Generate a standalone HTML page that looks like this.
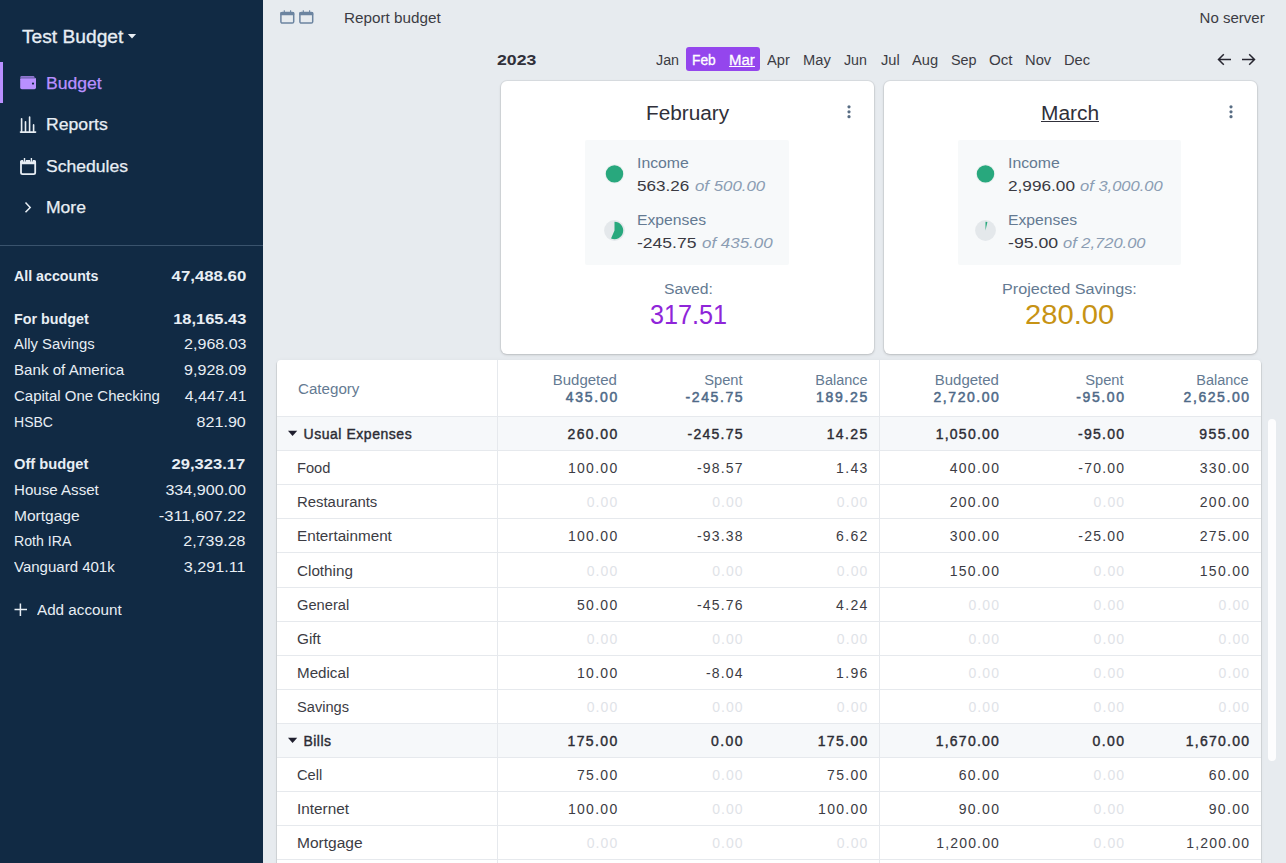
<!DOCTYPE html>
<html><head><meta charset="utf-8"><style>
html,body{margin:0;padding:0;width:1286px;height:863px;overflow:hidden;background:#e7ebef;font-family:"Liberation Sans",sans-serif;}
.t{position:absolute;white-space:nowrap;}
.r{position:absolute;display:block;}
</style></head><body>
<div class="r" style="left:0px;top:0px;width:263px;height:863px;background:#112a44;"></div>
<div class="t" style="top:28.00px;font-size:18px;line-height:18px;color:#e8eef4;-webkit-text-stroke:0.3px #e8eef4;left:21.60px;transform-origin:0 0;transform:scaleX(1.0662);">Test Budget</div>
<svg class="r" style="left:127px;top:33px;" width="10" height="7" viewBox="0 0 10 7"><path d="M0.9 1.1 L9.1 1.1 L5 5.4 Z" fill="#e8eef4"/></svg>
<div class="r" style="left:0px;top:62px;width:3px;height:41px;background:#b990ff;"></div>
<svg class="r" style="left:20px;top:75px;" width="16" height="15" viewBox="0 0 16 15"><rect x="0.2" y="2.6" width="15.8" height="11.6" rx="1.6" fill="#b990ff"/><rect x="0.3" y="1.2" width="14.2" height="2.2" rx="1.1" fill="#b990ff"/><path d="M0.5 2.9 H15" stroke="#112a44" stroke-width="0.6"/><circle cx="13" cy="8.6" r="1.1" fill="#112a44"/></svg>
<div class="t" style="top:75.80px;font-size:16px;line-height:16px;color:#b990ff;-webkit-text-stroke:0.25px #b990ff;left:45.50px;transform-origin:0 0;transform:scaleX(1.0986);">Budget</div>
<svg class="r" style="left:19px;top:115px;" width="18" height="19" viewBox="0 0 18 19"><g stroke="#e8eef4" stroke-width="1.6" stroke-linecap="round"><path d="M2.6 3.8 V16.5"/><path d="M6.5 6.9 V16.5"/><path d="M10.6 2 V16.5"/><path d="M14.6 9.9 V16.5"/><path d="M1.5 17.1 H16.6"/></g></svg>
<div class="t" style="top:117.00px;font-size:16px;line-height:16px;color:#e8eef4;-webkit-text-stroke:0.25px #e8eef4;left:45.70px;transform-origin:0 0;transform:scaleX(1.1018);">Reports</div>
<svg class="r" style="left:19px;top:157px;" width="18" height="19" viewBox="0 0 18 19"><rect x="2" y="4" width="14.2" height="13.1" rx="1.6" fill="none" stroke="#e8eef4" stroke-width="1.8"/><rect x="1.2" y="3.2" width="15.8" height="4" rx="1.4" fill="#e8eef4"/><path d="M4.6 2.6 V4.4 M6.4 2.6 V4.4 M11.5 2.6 V4.4 M13.3 2.6 V4.4" stroke="#112a44" stroke-width="0.9"/><path d="M5.5 1 V4.6 M12.4 1 V4.6" stroke="#e8eef4" stroke-width="1.4"/></svg>
<div class="t" style="top:158.90px;font-size:16px;line-height:16px;color:#e8eef4;-webkit-text-stroke:0.25px #e8eef4;left:45.70px;transform-origin:0 0;transform:scaleX(1.0977);">Schedules</div>
<svg class="r" style="left:23px;top:200px;" width="10" height="15" viewBox="0 0 10 15"><path d="M2.5 2.5 L7.2 7.4 L2.5 12.3" fill="none" stroke="#e8eef4" stroke-width="1.5"/></svg>
<div class="t" style="top:200.30px;font-size:16px;line-height:16px;color:#e8eef4;-webkit-text-stroke:0.25px #e8eef4;left:45.70px;transform-origin:0 0;transform:scaleX(1.0959);">More</div>
<div class="r" style="left:0px;top:245px;width:263px;height:1px;background:#3a536d;"></div>
<div class="t" style="top:269.00px;font-size:14px;line-height:14px;color:#e8eef4;font-weight:bold;left:14.30px;transform-origin:0 0;transform:scaleX(1.0144);">All accounts</div>
<div class="t" style="top:269.00px;font-size:14px;line-height:14px;color:#e8eef4;font-weight:bold;right:1040.02px;transform-origin:100% 0;transform:scaleX(1.1990);">47,488.60</div>
<div class="t" style="top:311.80px;font-size:14px;line-height:14px;color:#e8eef4;font-weight:bold;left:14.30px;transform-origin:0 0;transform:scaleX(1.0219);">For budget</div>
<div class="t" style="top:311.80px;font-size:14px;line-height:14px;color:#e8eef4;font-weight:bold;right:1040.02px;transform-origin:100% 0;transform:scaleX(1.1734);">18,165.43</div>
<div class="t" style="top:337.30px;font-size:14px;line-height:14px;color:#e8eef4;left:14.30px;transform-origin:0 0;transform:scaleX(1.0590);">Ally Savings</div>
<div class="t" style="top:337.30px;font-size:14px;line-height:14px;color:#e8eef4;right:1040.01px;transform-origin:100% 0;transform:scaleX(1.1450);">2,968.03</div>
<div class="t" style="top:363.30px;font-size:14px;line-height:14px;color:#e8eef4;left:14.30px;transform-origin:0 0;transform:scaleX(1.0804);">Bank of America</div>
<div class="t" style="top:363.30px;font-size:14px;line-height:14px;color:#e8eef4;right:1040.01px;transform-origin:100% 0;transform:scaleX(1.1450);">9,928.09</div>
<div class="t" style="top:389.30px;font-size:14px;line-height:14px;color:#e8eef4;left:14.30px;transform-origin:0 0;transform:scaleX(1.0712);">Capital One Checking</div>
<div class="t" style="top:389.30px;font-size:14px;line-height:14px;color:#e8eef4;right:1040.01px;transform-origin:100% 0;transform:scaleX(1.1321);">4,447.41</div>
<div class="t" style="top:414.80px;font-size:14px;line-height:14px;color:#e8eef4;left:14.30px;transform-origin:0 0;transform:scaleX(1.0026);">HSBC</div>
<div class="t" style="top:414.80px;font-size:14px;line-height:14px;color:#e8eef4;right:1039.98px;transform-origin:100% 0;transform:scaleX(1.1495);">821.90</div>
<div class="t" style="top:457.00px;font-size:14px;line-height:14px;color:#e8eef4;font-weight:bold;left:14.40px;transform-origin:0 0;transform:scaleX(1.0508);">Off budget</div>
<div class="t" style="top:457.00px;font-size:14px;line-height:14px;color:#e8eef4;font-weight:bold;right:1040.52px;transform-origin:100% 0;transform:scaleX(1.1830);">29,323.17</div>
<div class="t" style="top:482.90px;font-size:14px;line-height:14px;color:#e8eef4;left:14.40px;transform-origin:0 0;transform:scaleX(1.0789);">House Asset</div>
<div class="t" style="top:482.90px;font-size:14px;line-height:14px;color:#e8eef4;right:1040.34px;transform-origin:100% 0;transform:scaleX(1.1512);">334,900.00</div>
<div class="t" style="top:508.70px;font-size:14px;line-height:14px;color:#e8eef4;left:14.40px;transform-origin:0 0;transform:scaleX(1.1100);">Mortgage</div>
<div class="t" style="top:508.70px;font-size:14px;line-height:14px;color:#e8eef4;right:1040.31px;transform-origin:100% 0;transform:scaleX(1.1805);">-311,607.22</div>
<div class="t" style="top:534.10px;font-size:14px;line-height:14px;color:#e8eef4;left:14.40px;transform-origin:0 0;transform:scaleX(1.0088);">Roth IRA</div>
<div class="t" style="top:534.10px;font-size:14px;line-height:14px;color:#e8eef4;right:1040.31px;transform-origin:100% 0;transform:scaleX(1.1413);">2,739.28</div>
<div class="t" style="top:559.60px;font-size:14px;line-height:14px;color:#e8eef4;left:14.40px;transform-origin:0 0;transform:scaleX(1.0723);">Vanguard 401k</div>
<div class="t" style="top:559.60px;font-size:14px;line-height:14px;color:#e8eef4;right:1040.35px;transform-origin:100% 0;transform:scaleX(1.1533);">3,291.11</div>
<svg class="r" style="left:13px;top:602px;" width="16" height="16" viewBox="0 0 16 16"><path d="M7.4 1.5 V14 M1.5 7.6 H14" stroke="#e8eef4" stroke-width="1.5"/></svg>
<div class="t" style="top:603.00px;font-size:14px;line-height:14px;color:#e8eef4;left:37.10px;transform-origin:0 0;transform:scaleX(1.0874);">Add account</div>
<svg class="r" style="left:280px;top:9px;" width="15" height="16" viewBox="0 0 15 16"><rect x="0.9" y="3.6" width="12.8" height="10.5" rx="1.4" fill="none" stroke="#6c84a0" stroke-width="1.5"/><rect x="0.3" y="3" width="14" height="3.2" rx="1" fill="#6c84a0"/><path d="M4.3 1.3 V4 M10.6 1.3 V4" stroke="#6c84a0" stroke-width="1.1"/></svg>
<svg class="r" style="left:299px;top:9px;" width="15" height="16" viewBox="0 0 15 16"><rect x="0.9" y="3.6" width="12.8" height="10.5" rx="1.4" fill="none" stroke="#6c84a0" stroke-width="1.5"/><rect x="0.3" y="3" width="14" height="3.2" rx="1" fill="#6c84a0"/><path d="M4.3 1.3 V4 M10.6 1.3 V4" stroke="#6c84a0" stroke-width="1.1"/></svg>
<div class="t" style="top:10.70px;font-size:14px;line-height:14px;color:#3c3c44;left:343.90px;transform-origin:0 0;transform:scaleX(1.0902);">Report budget</div>
<div class="t" style="top:10.90px;font-size:14px;line-height:14px;color:#3c3c44;right:21.42px;transform-origin:100% 0;transform:scaleX(1.0725);">No server</div>
<div class="t" style="top:51.90px;font-size:15px;line-height:15px;color:#30303a;font-weight:bold;left:497.40px;transform-origin:0 0;transform:scaleX(1.1766);">2023</div>
<div class="r" style="left:686px;top:47px;width:74px;height:24px;background:#9446ed;border-radius:3px;"></div>
<div class="t" style="top:52.90px;font-size:14px;line-height:14px;color:#3c3c44;left:655.90px;transform-origin:0 0;transform:scaleX(1.0221);">Jan</div>
<div class="t" style="top:52.90px;font-size:14px;line-height:14px;color:#ffffff;-webkit-text-stroke:0.3px #ffffff;left:692.20px;transform-origin:0 0;transform:scaleX(0.9834);">Feb</div>
<div class="t" style="top:52.90px;font-size:14px;line-height:14px;color:#ffffff;-webkit-text-stroke:0.3px #ffffff;left:729.30px;transform-origin:0 0;transform:scaleX(1.0664);">Mar</div>
<div class="t" style="top:52.90px;font-size:14px;line-height:14px;color:#3c3c44;left:767.40px;transform-origin:0 0;transform:scaleX(1.0459);">Apr</div>
<div class="t" style="top:52.90px;font-size:14px;line-height:14px;color:#3c3c44;left:802.90px;transform-origin:0 0;transform:scaleX(1.0492);">May</div>
<div class="t" style="top:52.90px;font-size:14px;line-height:14px;color:#3c3c44;left:844.20px;transform-origin:0 0;transform:scaleX(1.0133);">Jun</div>
<div class="t" style="top:52.90px;font-size:14px;line-height:14px;color:#3c3c44;left:880.80px;transform-origin:0 0;transform:scaleX(1.0447);">Jul</div>
<div class="t" style="top:52.90px;font-size:14px;line-height:14px;color:#3c3c44;left:911.90px;transform-origin:0 0;transform:scaleX(1.0482);">Aug</div>
<div class="t" style="top:52.90px;font-size:14px;line-height:14px;color:#3c3c44;left:950.50px;transform-origin:0 0;transform:scaleX(1.0281);">Sep</div>
<div class="t" style="top:52.90px;font-size:14px;line-height:14px;color:#3c3c44;left:988.60px;transform-origin:0 0;transform:scaleX(1.0826);">Oct</div>
<div class="t" style="top:52.90px;font-size:14px;line-height:14px;color:#3c3c44;left:1025.10px;transform-origin:0 0;transform:scaleX(1.0522);">Nov</div>
<div class="t" style="top:52.90px;font-size:14px;line-height:14px;color:#3c3c44;left:1063.70px;transform-origin:0 0;transform:scaleX(1.0482);">Dec</div>
<div class="r" style="left:729px;top:66px;width:26px;height:1px;background:#ffffff;"></div>
<svg class="r" style="left:1216px;top:52px;" width="17" height="15" viewBox="0 0 17 15"><path d="M15 7.5 H2.5 M7.8 2.2 L2.5 7.5 L7.8 12.8" fill="none" stroke="#272630" stroke-width="1.5"/></svg>
<svg class="r" style="left:1240px;top:52px;" width="17" height="15" viewBox="0 0 17 15"><path d="M2 7.5 H14.5 M9.2 2.2 L14.5 7.5 L9.2 12.8" fill="none" stroke="#272630" stroke-width="1.5"/></svg>
<div class="r" style="left:501px;top:81px;width:373px;height:273px;background:#ffffff;box-shadow:0 0 0 1px rgba(0,0,0,0.05),0 1px 3px rgba(0,0,0,0.16);border-radius:6px;"></div>
<div class="t" style="top:104.00px;font-size:19.5px;line-height:19.5px;color:#30303a;left:646.30px;transform-origin:0 0;transform:scaleX(1.0653);">February</div>
<svg class="r" style="left:846.3px;top:104px;" width="6" height="16" viewBox="0 0 6 16"><circle cx="3" cy="2.8" r="1.6" fill="#586d84"/><circle cx="3" cy="7.8" r="1.6" fill="#586d84"/><circle cx="3" cy="12.7" r="1.6" fill="#586d84"/></svg>
<div class="r" style="left:585px;top:140px;width:204px;height:125px;background:#f7f9fa;border-radius:2px;"></div>
<svg class="r" style="left:602px;top:162px;" width="25" height="25" viewBox="0 0 25 25"><circle cx="12.50" cy="11.9" r="9.6" fill="#e9efee"/><circle cx="12.50" cy="11.9" r="8.7" fill="#28a87d"/></svg>
<svg class="r" style="left:602px;top:220px;" width="25" height="25" viewBox="0 0 25 25"><circle cx="12.50" cy="10.5" r="10.4" fill="#e4e8eb"/><path d="M12.50 10.5 L12.50 1.8000000000000007 A8.7 8.7 0 1 1 9.045 18.484 Z" fill="#28a87d"/></svg>
<div class="t" style="top:155.80px;font-size:14px;line-height:14px;color:#647a92;left:636.80px;transform-origin:0 0;transform:scaleX(1.1285);">Income</div>
<div class="t" style="top:178.70px;font-size:14px;line-height:14px;color:#3a3a42;left:636.80px;transform-origin:0 0;transform:scaleX(1.2196);">563.26</div>
<div class="t" style="top:178.70px;font-size:14px;line-height:14px;color:#8b9db3;font-style:italic;left:694.60px;transform-origin:0 0;transform:scaleX(1.2021);">of 500.00</div>
<div class="t" style="top:213.00px;font-size:14px;line-height:14px;color:#647a92;left:636.80px;transform-origin:0 0;transform:scaleX(1.1220);">Expenses</div>
<div class="t" style="top:236.00px;font-size:14px;line-height:14px;color:#3a3a42;left:636.80px;transform-origin:0 0;transform:scaleX(1.2526);">-245.75</div>
<div class="t" style="top:236.00px;font-size:14px;line-height:14px;color:#8b9db3;font-style:italic;left:701.60px;transform-origin:0 0;transform:scaleX(1.2106);">of 435.00</div>
<div class="t" style="top:281.60px;font-size:14px;line-height:14px;color:#647a92;left:663.50px;transform-origin:0 0;transform:scaleX(1.1239);">Saved:</div>
<div class="t" style="top:302.40px;font-size:27px;line-height:27px;color:#8f25d9;left:649.80px;transform-origin:0 0;transform:scaleX(0.9322);">317.51</div>
<div class="r" style="left:884px;top:81px;width:373px;height:273px;background:#ffffff;box-shadow:0 0 0 1px rgba(0,0,0,0.05),0 1px 3px rgba(0,0,0,0.16);border-radius:6px;"></div>
<div class="t" style="top:104.00px;font-size:19.5px;line-height:19.5px;color:#30303a;left:1040.50px;transform-origin:0 0;transform:scaleX(1.0720);">March</div>
<div class="r" style="left:1040.5px;top:120.6px;width:58px;height:1.2px;background:#30303a;"></div>
<svg class="r" style="left:1228.4px;top:104px;" width="6" height="16" viewBox="0 0 6 16"><circle cx="3" cy="2.8" r="1.6" fill="#586d84"/><circle cx="3" cy="7.8" r="1.6" fill="#586d84"/><circle cx="3" cy="12.7" r="1.6" fill="#586d84"/></svg>
<div class="r" style="left:958px;top:140px;width:223px;height:125px;background:#f7f9fa;border-radius:2px;"></div>
<svg class="r" style="left:974px;top:162px;" width="25" height="25" viewBox="0 0 25 25"><circle cx="11.50" cy="11.9" r="9.6" fill="#e9efee"/><circle cx="11.50" cy="11.9" r="8.7" fill="#28a87d"/></svg>
<svg class="r" style="left:974px;top:220px;" width="25" height="25" viewBox="0 0 25 25"><circle cx="11.50" cy="10.5" r="10.4" fill="#e4e8eb"/><path d="M11.50 10.5 L11.50 1.8000000000000007 A8.7 8.7 0 0 1 13.398 2.010 Z" fill="#28a87d"/></svg>
<div class="t" style="top:155.80px;font-size:14px;line-height:14px;color:#647a92;left:1007.80px;transform-origin:0 0;transform:scaleX(1.1285);">Income</div>
<div class="t" style="top:178.70px;font-size:14px;line-height:14px;color:#3a3a42;left:1007.80px;transform-origin:0 0;transform:scaleX(1.2294);">2,996.00</div>
<div class="t" style="top:178.70px;font-size:14px;line-height:14px;color:#8b9db3;font-style:italic;left:1080.40px;transform-origin:0 0;transform:scaleX(1.1812);">of 3,000.00</div>
<div class="t" style="top:213.00px;font-size:14px;line-height:14px;color:#647a92;left:1007.80px;transform-origin:0 0;transform:scaleX(1.1220);">Expenses</div>
<div class="t" style="top:236.00px;font-size:14px;line-height:14px;color:#3a3a42;left:1007.80px;transform-origin:0 0;transform:scaleX(1.2645);">-95.00</div>
<div class="t" style="top:236.00px;font-size:14px;line-height:14px;color:#8b9db3;font-style:italic;left:1063.30px;transform-origin:0 0;transform:scaleX(1.1769);">of 2,720.00</div>
<div class="t" style="top:281.60px;font-size:14px;line-height:14px;color:#647a92;left:1002.10px;transform-origin:0 0;transform:scaleX(1.1542);">Projected Savings:</div>
<div class="t" style="top:302.40px;font-size:27px;line-height:27px;color:#c79314;left:1025.20px;transform-origin:0 0;transform:scaleX(1.0799);">280.00</div>
<div class="r" style="left:277px;top:360px;width:984px;height:520px;background:#ffffff;border-radius:4px 4px 0 0;box-shadow:-1px 1px 0 rgba(0,0,0,0.09),1px 1px 0 rgba(0,0,0,0.09),0 0 4px rgba(0,0,0,0.04);"></div>
<div class="r" style="left:497px;top:360px;width:1px;height:520px;background:#e6e9ed;"></div>
<div class="r" style="left:879px;top:360px;width:1px;height:520px;background:#e6e9ed;"></div>
<div class="r" style="left:277px;top:416px;width:984px;height:1px;background:#e6e9ed;"></div>
<div class="t" style="top:381.80px;font-size:14px;line-height:14px;color:#647a92;left:297.60px;transform-origin:0 0;transform:scaleX(1.0810);">Category</div>
<div class="t" style="top:372.80px;font-size:14px;line-height:14px;color:#647a92;right:668.75px;transform-origin:100% 0;transform:scaleX(1.0701);">Budgeted</div>
<div class="t" style="top:389.90px;font-size:14px;line-height:14px;color:#4f6a88;-webkit-text-stroke:0.5px #4f6a88;letter-spacing:1.712px;right:667.07px;">435.00</div>
<div class="t" style="top:372.80px;font-size:14px;line-height:14px;color:#647a92;right:543.42px;transform-origin:100% 0;transform:scaleX(1.0492);">Spent</div>
<div class="t" style="top:389.90px;font-size:14px;line-height:14px;color:#4f6a88;-webkit-text-stroke:0.5px #4f6a88;letter-spacing:1.583px;right:541.84px;">-245.75</div>
<div class="t" style="top:372.80px;font-size:14px;line-height:14px;color:#647a92;right:418.71px;transform-origin:100% 0;transform:scaleX(1.0336);">Balance</div>
<div class="t" style="top:389.90px;font-size:14px;line-height:14px;color:#4f6a88;-webkit-text-stroke:0.5px #4f6a88;letter-spacing:1.712px;right:416.97px;">189.25</div>
<div class="t" style="top:372.80px;font-size:14px;line-height:14px;color:#647a92;right:287.05px;transform-origin:100% 0;transform:scaleX(1.0701);">Budgeted</div>
<div class="t" style="top:389.90px;font-size:14px;line-height:14px;color:#4f6a88;-webkit-text-stroke:0.5px #4f6a88;letter-spacing:1.557px;right:285.55px;">2,720.00</div>
<div class="t" style="top:372.80px;font-size:14px;line-height:14px;color:#647a92;right:162.02px;transform-origin:100% 0;transform:scaleX(1.0492);">Spent</div>
<div class="t" style="top:389.90px;font-size:14px;line-height:14px;color:#4f6a88;-webkit-text-stroke:0.5px #4f6a88;letter-spacing:1.588px;right:160.42px;">-95.00</div>
<div class="t" style="top:372.80px;font-size:14px;line-height:14px;color:#647a92;right:37.01px;transform-origin:100% 0;transform:scaleX(1.0336);">Balance</div>
<div class="t" style="top:389.90px;font-size:14px;line-height:14px;color:#4f6a88;-webkit-text-stroke:0.5px #4f6a88;letter-spacing:1.557px;right:35.45px;">2,625.00</div>
<div class="r" style="left:277px;top:417px;width:984px;height:33px;background:#f6f8fa;"></div>
<div class="r" style="left:497px;top:416px;width:1px;height:34px;background:#e6e9ed;"></div>
<div class="r" style="left:879px;top:416px;width:1px;height:34px;background:#e6e9ed;"></div>
<div class="r" style="left:277px;top:450px;width:984px;height:1px;background:#e6e9ed;"></div>
<svg class="r" style="left:287px;top:430px;" width="11" height="8" viewBox="0 0 11 8"><path d="M1 0.8 H10.2 L5.6 6 Z" fill="#1f1f2e"/></svg>
<div class="t" style="top:427.00px;font-size:14px;line-height:14px;color:#2c2c34;-webkit-text-stroke:0.4px #2c2c34;letter-spacing:0.538px;left:303.50px;">Usual Expenses</div>
<div class="t" style="top:427.00px;font-size:14px;line-height:14px;color:#2c2c34;-webkit-text-stroke:0.4px #2c2c34;letter-spacing:1.370px;right:667.41px;">260.00</div>
<div class="t" style="top:427.00px;font-size:14px;line-height:14px;color:#2c2c34;-webkit-text-stroke:0.4px #2c2c34;letter-spacing:1.267px;right:542.15px;">-245.75</div>
<div class="t" style="top:427.00px;font-size:14px;line-height:14px;color:#2c2c34;-webkit-text-stroke:0.4px #2c2c34;letter-spacing:1.400px;right:417.27px;">14.25</div>
<div class="t" style="top:427.00px;font-size:14px;line-height:14px;color:#2c2c34;-webkit-text-stroke:0.4px #2c2c34;letter-spacing:1.246px;right:285.86px;">1,050.00</div>
<div class="t" style="top:427.00px;font-size:14px;line-height:14px;color:#2c2c34;-webkit-text-stroke:0.4px #2c2c34;letter-spacing:1.270px;right:160.73px;">-95.00</div>
<div class="t" style="top:427.00px;font-size:14px;line-height:14px;color:#2c2c34;-webkit-text-stroke:0.4px #2c2c34;letter-spacing:1.370px;right:35.61px;">955.00</div>
<div class="r" style="left:277px;top:484px;width:984px;height:1px;background:#e6e9ed;"></div>
<div class="t" style="top:461.00px;font-size:14px;line-height:14px;color:#3c3c44;left:297.30px;transform-origin:0 0;transform:scaleX(1.0470);">Food</div>
<div class="t" style="top:461.00px;font-size:14px;line-height:14px;color:#3c3c44;letter-spacing:1.284px;right:667.50px;">100.00</div>
<div class="t" style="top:461.00px;font-size:14px;line-height:14px;color:#3c3c44;letter-spacing:1.191px;right:542.21px;">-98.57</div>
<div class="t" style="top:461.00px;font-size:14px;line-height:14px;color:#3c3c44;letter-spacing:1.360px;right:417.29px;">1.43</div>
<div class="t" style="top:461.00px;font-size:14px;line-height:14px;color:#3c3c44;letter-spacing:1.284px;right:285.80px;">400.00</div>
<div class="t" style="top:461.00px;font-size:14px;line-height:14px;color:#3c3c44;letter-spacing:1.191px;right:160.81px;">-70.00</div>
<div class="t" style="top:461.00px;font-size:14px;line-height:14px;color:#3c3c44;letter-spacing:1.284px;right:35.70px;">330.00</div>
<div class="r" style="left:277px;top:518px;width:984px;height:1px;background:#e6e9ed;"></div>
<div class="t" style="top:495.00px;font-size:14px;line-height:14px;color:#3c3c44;left:297.30px;transform-origin:0 0;transform:scaleX(1.0636);">Restaurants</div>
<div class="t" style="top:495.00px;font-size:14px;line-height:14px;color:#dfe3e8;letter-spacing:1.088px;right:667.67px;">0.00</div>
<div class="t" style="top:495.00px;font-size:14px;line-height:14px;color:#dfe3e8;letter-spacing:1.088px;right:542.27px;">0.00</div>
<div class="t" style="top:495.00px;font-size:14px;line-height:14px;color:#dfe3e8;letter-spacing:1.088px;right:417.57px;">0.00</div>
<div class="t" style="top:495.00px;font-size:14px;line-height:14px;color:#3c3c44;letter-spacing:1.284px;right:285.80px;">200.00</div>
<div class="t" style="top:495.00px;font-size:14px;line-height:14px;color:#dfe3e8;letter-spacing:1.088px;right:160.87px;">0.00</div>
<div class="t" style="top:495.00px;font-size:14px;line-height:14px;color:#3c3c44;letter-spacing:1.284px;right:35.70px;">200.00</div>
<div class="r" style="left:277px;top:552px;width:984px;height:1px;background:#e6e9ed;"></div>
<div class="t" style="top:529.00px;font-size:14px;line-height:14px;color:#3c3c44;left:297.30px;transform-origin:0 0;transform:scaleX(1.0883);">Entertainment</div>
<div class="t" style="top:529.00px;font-size:14px;line-height:14px;color:#3c3c44;letter-spacing:1.284px;right:667.50px;">100.00</div>
<div class="t" style="top:529.00px;font-size:14px;line-height:14px;color:#3c3c44;letter-spacing:1.191px;right:542.21px;">-93.38</div>
<div class="t" style="top:529.00px;font-size:14px;line-height:14px;color:#3c3c44;letter-spacing:1.360px;right:417.29px;">6.62</div>
<div class="t" style="top:529.00px;font-size:14px;line-height:14px;color:#3c3c44;letter-spacing:1.284px;right:285.80px;">300.00</div>
<div class="t" style="top:529.00px;font-size:14px;line-height:14px;color:#3c3c44;letter-spacing:1.191px;right:160.81px;">-25.00</div>
<div class="t" style="top:529.00px;font-size:14px;line-height:14px;color:#3c3c44;letter-spacing:1.284px;right:35.70px;">275.00</div>
<div class="r" style="left:277px;top:587px;width:984px;height:1px;background:#e6e9ed;"></div>
<div class="t" style="top:563.50px;font-size:14px;line-height:14px;color:#3c3c44;left:297.30px;transform-origin:0 0;transform:scaleX(1.0875);">Clothing</div>
<div class="t" style="top:563.50px;font-size:14px;line-height:14px;color:#dfe3e8;letter-spacing:1.088px;right:667.67px;">0.00</div>
<div class="t" style="top:563.50px;font-size:14px;line-height:14px;color:#dfe3e8;letter-spacing:1.088px;right:542.27px;">0.00</div>
<div class="t" style="top:563.50px;font-size:14px;line-height:14px;color:#dfe3e8;letter-spacing:1.088px;right:417.57px;">0.00</div>
<div class="t" style="top:563.50px;font-size:14px;line-height:14px;color:#3c3c44;letter-spacing:1.284px;right:285.80px;">150.00</div>
<div class="t" style="top:563.50px;font-size:14px;line-height:14px;color:#dfe3e8;letter-spacing:1.088px;right:160.87px;">0.00</div>
<div class="t" style="top:563.50px;font-size:14px;line-height:14px;color:#3c3c44;letter-spacing:1.284px;right:35.70px;">150.00</div>
<div class="r" style="left:277px;top:621px;width:984px;height:1px;background:#e6e9ed;"></div>
<div class="t" style="top:598.00px;font-size:14px;line-height:14px;color:#3c3c44;left:297.30px;transform-origin:0 0;transform:scaleX(1.0482);">General</div>
<div class="t" style="top:598.00px;font-size:14px;line-height:14px;color:#3c3c44;letter-spacing:1.312px;right:667.45px;">50.00</div>
<div class="t" style="top:598.00px;font-size:14px;line-height:14px;color:#3c3c44;letter-spacing:1.191px;right:542.21px;">-45.76</div>
<div class="t" style="top:598.00px;font-size:14px;line-height:14px;color:#3c3c44;letter-spacing:1.360px;right:417.29px;">4.24</div>
<div class="t" style="top:598.00px;font-size:14px;line-height:14px;color:#dfe3e8;letter-spacing:1.088px;right:285.97px;">0.00</div>
<div class="t" style="top:598.00px;font-size:14px;line-height:14px;color:#dfe3e8;letter-spacing:1.088px;right:160.87px;">0.00</div>
<div class="t" style="top:598.00px;font-size:14px;line-height:14px;color:#dfe3e8;letter-spacing:1.088px;right:35.87px;">0.00</div>
<div class="r" style="left:277px;top:655px;width:984px;height:1px;background:#e6e9ed;"></div>
<div class="t" style="top:632.00px;font-size:14px;line-height:14px;color:#3c3c44;left:297.30px;transform-origin:0 0;transform:scaleX(1.0963);">Gift</div>
<div class="t" style="top:632.00px;font-size:14px;line-height:14px;color:#dfe3e8;letter-spacing:1.088px;right:667.67px;">0.00</div>
<div class="t" style="top:632.00px;font-size:14px;line-height:14px;color:#dfe3e8;letter-spacing:1.088px;right:542.27px;">0.00</div>
<div class="t" style="top:632.00px;font-size:14px;line-height:14px;color:#dfe3e8;letter-spacing:1.088px;right:417.57px;">0.00</div>
<div class="t" style="top:632.00px;font-size:14px;line-height:14px;color:#dfe3e8;letter-spacing:1.088px;right:285.97px;">0.00</div>
<div class="t" style="top:632.00px;font-size:14px;line-height:14px;color:#dfe3e8;letter-spacing:1.088px;right:160.87px;">0.00</div>
<div class="t" style="top:632.00px;font-size:14px;line-height:14px;color:#dfe3e8;letter-spacing:1.088px;right:35.87px;">0.00</div>
<div class="r" style="left:277px;top:689px;width:984px;height:1px;background:#e6e9ed;"></div>
<div class="t" style="top:666.00px;font-size:14px;line-height:14px;color:#3c3c44;left:297.30px;transform-origin:0 0;transform:scaleX(1.0830);">Medical</div>
<div class="t" style="top:666.00px;font-size:14px;line-height:14px;color:#3c3c44;letter-spacing:1.312px;right:667.45px;">10.00</div>
<div class="t" style="top:666.00px;font-size:14px;line-height:14px;color:#3c3c44;letter-spacing:1.196px;right:542.19px;">-8.04</div>
<div class="t" style="top:666.00px;font-size:14px;line-height:14px;color:#3c3c44;letter-spacing:1.360px;right:417.29px;">1.96</div>
<div class="t" style="top:666.00px;font-size:14px;line-height:14px;color:#dfe3e8;letter-spacing:1.088px;right:285.97px;">0.00</div>
<div class="t" style="top:666.00px;font-size:14px;line-height:14px;color:#dfe3e8;letter-spacing:1.088px;right:160.87px;">0.00</div>
<div class="t" style="top:666.00px;font-size:14px;line-height:14px;color:#dfe3e8;letter-spacing:1.088px;right:35.87px;">0.00</div>
<div class="r" style="left:277px;top:723px;width:984px;height:1px;background:#e6e9ed;"></div>
<div class="t" style="top:700.00px;font-size:14px;line-height:14px;color:#3c3c44;left:297.30px;transform-origin:0 0;transform:scaleX(1.0442);">Savings</div>
<div class="t" style="top:700.00px;font-size:14px;line-height:14px;color:#dfe3e8;letter-spacing:1.088px;right:667.67px;">0.00</div>
<div class="t" style="top:700.00px;font-size:14px;line-height:14px;color:#dfe3e8;letter-spacing:1.088px;right:542.27px;">0.00</div>
<div class="t" style="top:700.00px;font-size:14px;line-height:14px;color:#dfe3e8;letter-spacing:1.088px;right:417.57px;">0.00</div>
<div class="t" style="top:700.00px;font-size:14px;line-height:14px;color:#dfe3e8;letter-spacing:1.088px;right:285.97px;">0.00</div>
<div class="t" style="top:700.00px;font-size:14px;line-height:14px;color:#dfe3e8;letter-spacing:1.088px;right:160.87px;">0.00</div>
<div class="t" style="top:700.00px;font-size:14px;line-height:14px;color:#dfe3e8;letter-spacing:1.088px;right:35.87px;">0.00</div>
<div class="r" style="left:277px;top:724px;width:984px;height:33px;background:#f6f8fa;"></div>
<div class="r" style="left:497px;top:723px;width:1px;height:34px;background:#e6e9ed;"></div>
<div class="r" style="left:879px;top:723px;width:1px;height:34px;background:#e6e9ed;"></div>
<div class="r" style="left:277px;top:757px;width:984px;height:1px;background:#e6e9ed;"></div>
<svg class="r" style="left:287px;top:737px;" width="11" height="8" viewBox="0 0 11 8"><path d="M1 0.8 H10.2 L5.6 6 Z" fill="#1f1f2e"/></svg>
<div class="t" style="top:734.00px;font-size:14px;line-height:14px;color:#2c2c34;-webkit-text-stroke:0.4px #2c2c34;letter-spacing:0.450px;left:303.50px;">Bills</div>
<div class="t" style="top:734.00px;font-size:14px;line-height:14px;color:#2c2c34;-webkit-text-stroke:0.4px #2c2c34;letter-spacing:1.370px;right:667.41px;">175.00</div>
<div class="t" style="top:734.00px;font-size:14px;line-height:14px;color:#2c2c34;-webkit-text-stroke:0.4px #2c2c34;letter-spacing:1.451px;right:541.90px;">0.00</div>
<div class="t" style="top:734.00px;font-size:14px;line-height:14px;color:#2c2c34;-webkit-text-stroke:0.4px #2c2c34;letter-spacing:1.370px;right:417.31px;">175.00</div>
<div class="t" style="top:734.00px;font-size:14px;line-height:14px;color:#2c2c34;-webkit-text-stroke:0.4px #2c2c34;letter-spacing:1.246px;right:285.86px;">1,670.00</div>
<div class="t" style="top:734.00px;font-size:14px;line-height:14px;color:#2c2c34;-webkit-text-stroke:0.4px #2c2c34;letter-spacing:1.451px;right:160.50px;">0.00</div>
<div class="t" style="top:734.00px;font-size:14px;line-height:14px;color:#2c2c34;-webkit-text-stroke:0.4px #2c2c34;letter-spacing:1.246px;right:35.76px;">1,670.00</div>
<div class="r" style="left:277px;top:791px;width:984px;height:1px;background:#e6e9ed;"></div>
<div class="t" style="top:768.00px;font-size:14px;line-height:14px;color:#3c3c44;left:297.30px;transform-origin:0 0;transform:scaleX(1.0498);">Cell</div>
<div class="t" style="top:768.00px;font-size:14px;line-height:14px;color:#3c3c44;letter-spacing:1.312px;right:667.45px;">75.00</div>
<div class="t" style="top:768.00px;font-size:14px;line-height:14px;color:#dfe3e8;letter-spacing:1.088px;right:542.27px;">0.00</div>
<div class="t" style="top:768.00px;font-size:14px;line-height:14px;color:#3c3c44;letter-spacing:1.312px;right:417.35px;">75.00</div>
<div class="t" style="top:768.00px;font-size:14px;line-height:14px;color:#3c3c44;letter-spacing:1.312px;right:285.75px;">60.00</div>
<div class="t" style="top:768.00px;font-size:14px;line-height:14px;color:#dfe3e8;letter-spacing:1.088px;right:160.87px;">0.00</div>
<div class="t" style="top:768.00px;font-size:14px;line-height:14px;color:#3c3c44;letter-spacing:1.312px;right:35.65px;">60.00</div>
<div class="r" style="left:277px;top:825px;width:984px;height:1px;background:#e6e9ed;"></div>
<div class="t" style="top:802.00px;font-size:14px;line-height:14px;color:#3c3c44;left:297.30px;transform-origin:0 0;transform:scaleX(1.0947);">Internet</div>
<div class="t" style="top:802.00px;font-size:14px;line-height:14px;color:#3c3c44;letter-spacing:1.284px;right:667.50px;">100.00</div>
<div class="t" style="top:802.00px;font-size:14px;line-height:14px;color:#dfe3e8;letter-spacing:1.088px;right:542.27px;">0.00</div>
<div class="t" style="top:802.00px;font-size:14px;line-height:14px;color:#3c3c44;letter-spacing:1.284px;right:417.40px;">100.00</div>
<div class="t" style="top:802.00px;font-size:14px;line-height:14px;color:#3c3c44;letter-spacing:1.312px;right:285.75px;">90.00</div>
<div class="t" style="top:802.00px;font-size:14px;line-height:14px;color:#dfe3e8;letter-spacing:1.088px;right:160.87px;">0.00</div>
<div class="t" style="top:802.00px;font-size:14px;line-height:14px;color:#3c3c44;letter-spacing:1.312px;right:35.65px;">90.00</div>
<div class="r" style="left:277px;top:859px;width:984px;height:1px;background:#e6e9ed;"></div>
<div class="t" style="top:836.00px;font-size:14px;line-height:14px;color:#3c3c44;left:297.30px;transform-origin:0 0;transform:scaleX(1.1100);">Mortgage</div>
<div class="t" style="top:836.00px;font-size:14px;line-height:14px;color:#dfe3e8;letter-spacing:1.088px;right:667.67px;">0.00</div>
<div class="t" style="top:836.00px;font-size:14px;line-height:14px;color:#dfe3e8;letter-spacing:1.088px;right:542.27px;">0.00</div>
<div class="t" style="top:836.00px;font-size:14px;line-height:14px;color:#dfe3e8;letter-spacing:1.088px;right:417.57px;">0.00</div>
<div class="t" style="top:836.00px;font-size:14px;line-height:14px;color:#3c3c44;letter-spacing:1.168px;right:285.94px;">1,200.00</div>
<div class="t" style="top:836.00px;font-size:14px;line-height:14px;color:#dfe3e8;letter-spacing:1.088px;right:160.87px;">0.00</div>
<div class="t" style="top:836.00px;font-size:14px;line-height:14px;color:#3c3c44;letter-spacing:1.168px;right:35.84px;">1,200.00</div>
<div class="r" style="left:277px;top:893px;width:984px;height:1px;background:#e6e9ed;"></div>
<div class="t" style="top:870.00px;font-size:14px;line-height:14px;color:#dfe3e8;letter-spacing:1.088px;right:667.67px;">0.00</div>
<div class="t" style="top:870.00px;font-size:14px;line-height:14px;color:#dfe3e8;letter-spacing:1.088px;right:542.27px;">0.00</div>
<div class="t" style="top:870.00px;font-size:14px;line-height:14px;color:#dfe3e8;letter-spacing:1.088px;right:417.57px;">0.00</div>
<div class="t" style="top:870.00px;font-size:14px;line-height:14px;color:#dfe3e8;letter-spacing:1.088px;right:285.97px;">0.00</div>
<div class="t" style="top:870.00px;font-size:14px;line-height:14px;color:#dfe3e8;letter-spacing:1.088px;right:160.87px;">0.00</div>
<div class="t" style="top:870.00px;font-size:14px;line-height:14px;color:#dfe3e8;letter-spacing:1.088px;right:35.87px;">0.00</div>
<div class="r" style="left:1268px;top:419px;width:8px;height:342px;background:#ffffff;border-radius:4px;opacity:0.9;"></div>
</body></html>
